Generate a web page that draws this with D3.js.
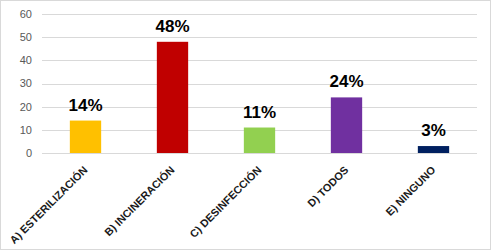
<!DOCTYPE html>
<html>
<head>
<meta charset="utf-8">
<script src="https://cdn.jsdelivr.net/npm/d3@7"></script>
<style>
  html, body { margin: 0; padding: 0; background: #fff; }
  svg { display: block; }
</style>
</head>
<body>
<script>
const categories = ["A) ESTERILIZACIÓN", "B) INCINERACIÓN", "C) DESINFECCIÓN", "D) TODOS", "E) NINGUNO"];
const values = [14, 48, 11, 24, 3];
const labels = ["14%", "48%", "11%", "24%", "3%"];
const colors = ["#FFC000", "#C00000", "#92D050", "#7030A0", "#002060"];
const yTicks = [0, 10, 20, 30, 40, 50, 60];

const width = 492, height = 251;
const margin = { top: 14, right: 15, bottom: 98, left: 42 };

const svg = d3.select("body").append("svg")
  .attr("width", width)
  .attr("height", height);

// chart border
svg.append("rect")
  .attr("x", 0.5).attr("y", 0.5)
  .attr("width", width - 2).attr("height", height - 2)
  .attr("fill", "#fff")
  .attr("stroke", "#d9d9d9");

const x = d3.scaleBand()
  .domain(categories)
  .range([margin.left, width - margin.right])
  .paddingInner(0.64)
  .paddingOuter(0.32);

const y = d3.scaleLinear()
  .domain([0, 60])
  .range([height - margin.bottom, margin.top]);

// gridlines
svg.append("g")
  .selectAll("line")
  .data(yTicks)
  .join("line")
  .attr("x1", margin.left)
  .attr("x2", width - margin.right)
  .attr("y1", d => Math.round(y(d)) + 0.5)
  .attr("y2", d => Math.round(y(d)) + 0.5)
  .attr("stroke", "#d9d9d9")
  .attr("stroke-width", 1.2);

// y tick labels
svg.append("g")
  .selectAll("text")
  .data(yTicks)
  .join("text")
  .attr("x", margin.left - 10)
  .attr("y", d => y(d))
  .attr("dy", "0.35em")
  .attr("text-anchor", "end")
  .attr("font-family", "Liberation Sans, Arial, sans-serif")
  .attr("font-size", 11)
  .attr("fill", "#595959")
  .text(d => d);

// bars
svg.append("g")
  .selectAll("rect")
  .data(values)
  .join("rect")
  .attr("x", (d, i) => x(categories[i]))
  .attr("y", d => y(d))
  .attr("width", x.bandwidth())
  .attr("height", d => y(0) - y(d))
  .attr("fill", (d, i) => colors[i]);

// value labels
svg.append("g")
  .selectAll("text")
  .data(values)
  .join("text")
  .attr("x", (d, i) => x(categories[i]) + x.bandwidth() / 2)
  .attr("y", d => y(d) - 10)
  .attr("text-anchor", "middle")
  .attr("font-family", "Liberation Sans, Arial, sans-serif")
  .attr("font-weight", "bold")
  .attr("font-size", 17)
  .attr("fill", "#000")
  .text((d, i) => labels[i]);

// category labels, rotated
svg.append("g")
  .selectAll("text")
  .data(categories)
  .join("text")
  .attr("transform", d => `translate(${x(d) + x.bandwidth() / 2},${y(0) + 15}) rotate(-45)`)
  .attr("text-anchor", "end")
  .attr("dy", "0.35em")
  .attr("font-family", "Liberation Sans, Arial, sans-serif")
  .attr("font-weight", "bold")
  .attr("font-size", 10.8)
  .attr("fill", "#1a1a1a")
  .text(d => d);
</script>
</body>
</html>
